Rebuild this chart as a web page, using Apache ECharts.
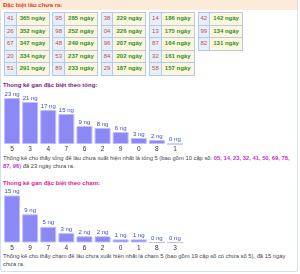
<!DOCTYPE html>
<html><head><meta charset="utf-8">
<script src="https://cdn.jsdelivr.net/npm/echarts@6/dist/echarts.min.js"></script>
<style>
html,body{margin:0;padding:0;background:#fff;width:300px;height:274px;overflow:hidden;font-family:Arial,"Liberation Sans",sans-serif;}
#box{position:absolute;left:0;top:0;width:296px;height:271px;border:1px solid #d3def0;border-top:none;border-radius:0 0 3px 3px;}
#hdr{position:absolute;left:0;top:0;width:297px;height:10px;background:#fcebd8;}
#hdr span{position:absolute;left:3px;top:1px;font-size:6px;line-height:8px;font-weight:bold;color:#e0402a;}
.c{position:absolute;box-sizing:border-box;border:1px solid #b3c9ee;height:13.5px;font-size:6px;text-align:center;line-height:11.5px;white-space:nowrap;overflow:hidden;}
.c.n{width:12.5px;background:#e7eefb;color:#c0503a;}
.c.v{width:34px;background:#fdf6dd;color:#2f9030;font-weight:bold;}
.ttl{position:absolute;left:3px;font-size:6px;font-weight:bold;line-height:8px;white-space:nowrap;}
.par{position:absolute;left:3px;width:292px;font-size:5.8px;line-height:8px;color:#444;}
.par b{color:#c52fd0;}
#chart{position:absolute;left:0;top:0;width:300px;height:274px;}
</style></head>
<body>
<div id="box"></div>
<div id="hdr"><span>Đặc biệt lâu chưa ra:</span></div>
<div id="tbl"></div>
<div class="ttl" style="top:80.5px;color:#7a2280;">Thống kê gan đặc biệt theo tổng:</div>
<div class="par" style="top:153.5px;">Thống kê cho thấy tổng để lâu chưa xuất hiện nhất là tổng 5 (bao gồm 10 cặp số: <b id="pairs"></b>) đã 23 ngày chưa ra.</div>
<div class="ttl" style="top:178.5px;color:#e0198a;">Thống kê gan đặc biệt theo chạm:</div>
<div class="par" style="top:252px;">Thống kê cho thấy chạm để lâu chưa xuất hiện nhất là chạm 5 (bao gồm 19 cặp số có chứa số 5), đã 15 ngày chưa ra.</div>
<div id="chart"></div>
<script>
// Table data (columns of 5 rows)
const lotNumbers = [
  ['41','26','67','20','51'],
  ['95','98','48','53','89'],
  ['38','04','96','84','29'],
  ['14','13','87','32','58'],
  ['42','99','82']
];
const lotDays = [
  [365,352,347,334,291],
  [285,252,249,237,233],
  [229,226,207,202,187],
  [186,175,164,161,157],
  [142,134,131]
];
const sumPairs = ['05','14','23','32','41','50','69','78','87','96'];

// Chart 1: by sum
const sumCategories = ['5','3','4','7','6','2','9','0','8','1'];
const sumValues = [23,21,17,15,9,8,6,3,2,0];
// Chart 2: by digit
const digitCategories = ['5','9','7','4','6','2','0','1','8','3'];
const digitValues = [15,9,5,3,2,2,1,1,0,0];

// build table
const tbl = document.getElementById('tbl');
lotNumbers.forEach((col, gi) => {
  const x0 = 4 + gi * 48.4;
  col.forEach((n, ri) => {
    const y0 = 12 + ri * 12.5;
    const a = document.createElement('div');
    a.className = 'c n'; a.style.left = x0 + 'px'; a.style.top = y0 + 'px'; a.textContent = n;
    const b = document.createElement('div');
    b.className = 'c v'; b.style.left = (x0 + 11.5) + 'px'; b.style.top = y0 + 'px'; b.textContent = lotDays[gi][ri] + ' ngày';
    tbl.appendChild(a); tbl.appendChild(b);
  });
});
document.getElementById('pairs').textContent = sumPairs.join(', ');

const chart = echarts.init(document.getElementById('chart'), null, {renderer:'canvas'});
const barStyle = {color:'#8c88f5', borderColor:'#c2c0fa', borderWidth:1};
const lbl = {show:true, position:'top', distance:1, fontSize:6, color:'#3a4cc0', formatter:'{c} ng', fontFamily:'Arial'};
const xa = (gi, cats) => ({gridIndex:gi, type:'category', data:cats, axisLine:{show:false}, axisTick:{show:false},
  axisLabel:{fontSize:6.5, color:'#333', margin:2, fontFamily:'Arial'}});
const ya = (gi, mx) => ({gridIndex:gi, type:'value', min:0, max:mx, show:false, splitLine:{show:false}});
chart.setOption({
  animation:false,
  grid:[
    {left:3, top:98, width:181, height:46},
    {left:3, top:195.5, width:181, height:47}
  ],
  xAxis:[xa(0,sumCategories), xa(1,digitCategories)],
  yAxis:[ya(0, Math.max(...sumValues)), ya(1, Math.max(...digitValues))],
  series:[
    {type:'bar', xAxisIndex:0, yAxisIndex:0, data:sumValues, barWidth:16, itemStyle:barStyle, label:lbl},
    {type:'bar', xAxisIndex:1, yAxisIndex:1, data:digitValues, barWidth:16, itemStyle:barStyle, label:lbl}
  ]
});
</script>
</body></html>
